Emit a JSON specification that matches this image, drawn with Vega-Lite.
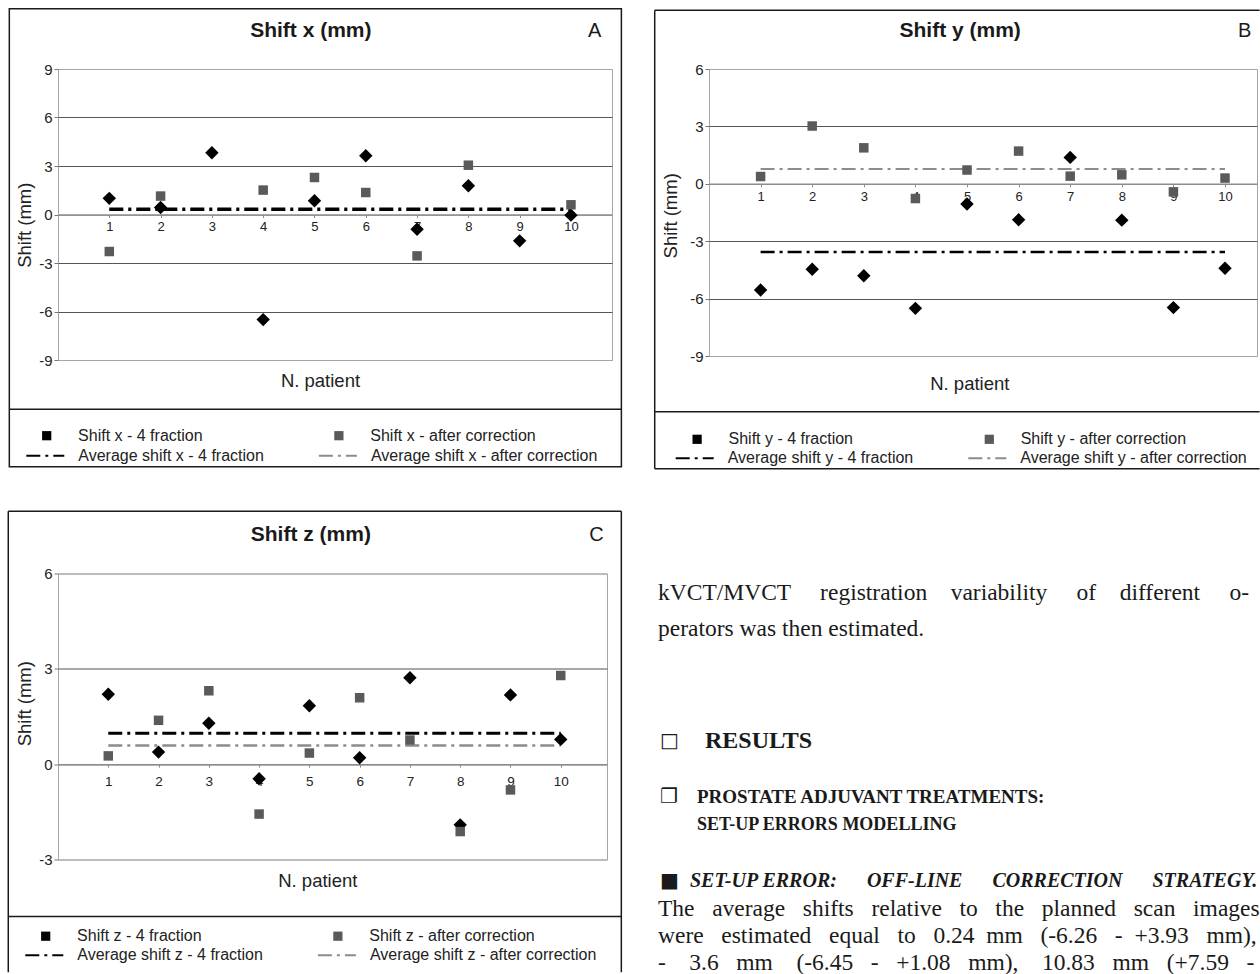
{
  "$schema": "https://vega.github.io/schema/vega-lite/v6.json",
  "padding": {"left": 7, "top": 7, "right": 0, "bottom": 0},
  "background": "white",
  "config": {"font": "Liberation Sans", "view": {"stroke": null}},
  "spacing": 39.5,
  "resolve": {"scale": {"color": "independent", "stroke": "independent", "strokeDash": "independent"}, "legend": {"color": "independent", "stroke": "independent", "strokeDash": "independent"}},
  "vconcat": [
    {
      "spacing": 30,
      "resolve": {"scale": {"color": "independent", "stroke": "independent", "strokeDash": "independent"}, "legend": {"color": "independent", "stroke": "independent", "strokeDash": "independent"}},
      "hconcat": [
        {
          "width": 554, "height": 291,
          "view": {"stroke": "#a6a6a6"},
          "data": {"values": [
            {"patient": 1, "shift": 1.0, "series": "Shift x - 4 fraction"},
            {"patient": 2, "shift": 0.43, "series": "Shift x - 4 fraction"},
            {"patient": 3, "shift": 3.82, "series": "Shift x - 4 fraction"},
            {"patient": 4, "shift": -6.5, "series": "Shift x - 4 fraction"},
            {"patient": 5, "shift": 0.85, "series": "Shift x - 4 fraction"},
            {"patient": 6, "shift": 3.63, "series": "Shift x - 4 fraction"},
            {"patient": 7, "shift": -0.91, "series": "Shift x - 4 fraction"},
            {"patient": 8, "shift": 1.78, "series": "Shift x - 4 fraction"},
            {"patient": 9, "shift": -1.63, "series": "Shift x - 4 fraction"},
            {"patient": 10, "shift": -0.04, "series": "Shift x - 4 fraction"},
            {"patient": 1, "shift": -2.29, "series": "Shift x - after correction"},
            {"patient": 2, "shift": 1.14, "series": "Shift x - after correction"},
            {"patient": 4, "shift": 1.51, "series": "Shift x - after correction"},
            {"patient": 5, "shift": 2.29, "series": "Shift x - after correction"},
            {"patient": 6, "shift": 1.36, "series": "Shift x - after correction"},
            {"patient": 7, "shift": -2.56, "series": "Shift x - after correction"},
            {"patient": 8, "shift": 3.05, "series": "Shift x - after correction"},
            {"patient": 10, "shift": 0.6, "series": "Shift x - after correction"}
          ]},
          "layer": [
            {
              "data": {"values": [{}]},
              "mark": {"type": "rect", "filled": false, "stroke": "#1a1a1a", "strokeWidth": 1.5, "clip": false},
              "encoding": {"x": {"datum": -0.949, "type": "quantitative"}, "x2": {"datum": 10.983}, "y": {"datum": 12.73, "type": "quantitative"}, "y2": {"datum": -15.6}}
            },
            {
              "data": {"values": [{}]},
              "mark": {"type": "rule", "stroke": "#1a1a1a", "strokeWidth": 1.5, "clip": false},
              "encoding": {"x": {"datum": -0.949, "type": "quantitative"}, "x2": {"datum": 10.983}, "y": {"datum": -12.04, "type": "quantitative"}}
            },
            {
              "data": {"values": [{"series": "Average shift x - after correction", "shift": 0.3}]},
              "mark": {"type": "rule", "strokeWidth": 2},
              "encoding": {"x": {"datum": 1, "type": "quantitative"}, "x2": {"datum": 10}, "y": {"field": "shift", "type": "quantitative"},
                "stroke": {"field": "series", "type": "nominal", "scale": {"domain": ["Average shift x - 4 fraction", "Average shift x - after correction"], "range": ["#000000", "#8c8c8c"]},
                  "legend": {"orient": "none", "legendX": -32.7, "legendY": 366.7, "columns": 2, "direction": "horizontal", "title": null, "padding": 0, "labelFontSize": 16, "labelColor": "#222", "labelLimit": 400, "symbolType": "stroke", "symbolSize": 1444, "symbolStrokeWidth": 2, "labelOffset": 13, "columnPadding": 50.6}},
                "strokeDash": {"field": "series", "type": "nominal", "scale": {"domain": ["Average shift x - 4 fraction", "Average shift x - after correction"], "range": [[14, 5, 3, 5], [14, 5, 3, 5]]},
                  "legend": {"orient": "none", "legendX": -32.7, "legendY": 366.7, "columns": 2, "direction": "horizontal", "title": null, "padding": 0, "labelFontSize": 16, "labelColor": "#222", "labelLimit": 400, "symbolType": "stroke", "symbolSize": 1444, "symbolStrokeWidth": 2, "labelOffset": 13, "columnPadding": 50.6}}}
            },
            {
              "data": {"values": [{"series": "Average shift x - 4 fraction", "shift": 0.33}]},
              "mark": {"type": "rule", "strokeWidth": 3.5},
              "encoding": {"x": {"datum": 1, "type": "quantitative"}, "x2": {"datum": 10}, "y": {"field": "shift", "type": "quantitative"},
                "stroke": {"field": "series", "type": "nominal"}, "strokeDash": {"field": "series", "type": "nominal"}}
            },
            {
              "transform": [{"filter": "datum.series === 'Shift x - 4 fraction'"}],
              "mark": {"type": "point", "shape": "diamond", "filled": true, "size": 180, "opacity": 1},
              "encoding": {
                "x": {"field": "patient", "type": "quantitative", "scale": {"domain": [0, 10.8], "nice": false, "zero": false},
                  "axis": {"values": [1,2,3,4,5,6,7,8,9,10], "format": "d", "offset": -145.5, "grid": false, "domainColor": "#8c8c8c", "domainWidth": 1.5, "tickColor": "#8c8c8c", "tickSize": 3, "labelPadding": 3, "labelFontSize": 13, "labelColor": "#222", "title": "N. patient", "titleFontSize": 18.5, "titleFontWeight": "normal", "titleColor": "#222", "titleX": 262, "titleY": 166.2, "titleBaseline": "middle", "titleAlign": "center"}},
                "y": {"field": "shift", "type": "quantitative", "scale": {"domain": [-9, 9], "nice": false, "zero": false},
                  "axis": {"values": [-9,-6,-3,0,3,6,9], "labelExpr": "datum.value < 0 ? '-' + abs(datum.value) : '' + datum.value", "grid": true, "gridColor": {"condition": {"test": "datum.value === 0 || abs(datum.value) === 9", "value": "#a6a6a6"}, "value": "#555555"}, "gridWidth": 1.2, "domain": false, "tickSize": 4, "tickColor": "#777", "labelPadding": 2, "labelFontSize": 15, "labelColor": "#222", "title": "Shift (mm)", "titleFontSize": 18.5, "titleFontWeight": "normal", "titleColor": "#222", "titleX": -33.5, "titleY": 155.7, "titleBaseline": "middle", "titleAlign": "center", "titleAngle": -90}},
                "color": {"field": "series", "type": "nominal",
                  "scale": {"domain": ["Shift x - 4 fraction", "Shift x - after correction"], "range": ["#000000", "#5a5a5a"]},
                  "legend": {"orient": "none", "legendX": -19.3, "legendY": 358.7, "columns": 2, "direction": "horizontal", "title": null, "padding": 0, "labelFontSize": 16, "labelColor": "#222", "labelLimit": 400, "symbolType": "square", "symbolSize": 85, "labelOffset": 23.4, "columnPadding": 128.2, "symbolOpacity": 1}}
              }
            },
            {
              "transform": [{"filter": "datum.series === 'Shift x - after correction'"}],
              "mark": {"type": "point", "shape": "square", "filled": true, "size": 90, "opacity": 1},
              "encoding": {"x": {"field": "patient", "type": "quantitative"}, "y": {"field": "shift", "type": "quantitative"}, "color": {"field": "series", "type": "nominal"}}
            },
            {
              "data": {"values": [{"title": "Shift x (mm)", "letter": "A"}]},
              "layer": [
                {"mark": {"type": "text", "fontSize": 21, "fontWeight": "bold", "align": "center", "baseline": "middle", "color": "#1a1a1a", "clip": false},
                 "encoding": {"x": {"datum": 4.929, "type": "quantitative"}, "y": {"datum": 11.37, "type": "quantitative"}, "text": {"field": "title"}}},
                {"mark": {"type": "text", "fontSize": 20, "align": "center", "baseline": "middle", "color": "#1a1a1a", "clip": false},
                 "encoding": {"x": {"datum": 10.46, "type": "quantitative"}, "y": {"datum": 11.37, "type": "quantitative"}, "text": {"field": "letter"}}}
              ]
            }
          ]
        },
        {
          "width": 548, "height": 287,
          "view": {"stroke": "#a6a6a6"},
          "data": {"values": [
            {"patient": 1, "shift": -5.55, "series": "Shift y - 4 fraction"},
            {"patient": 2, "shift": -4.47, "series": "Shift y - 4 fraction"},
            {"patient": 3, "shift": -4.81, "series": "Shift y - 4 fraction"},
            {"patient": 4, "shift": -6.51, "series": "Shift y - 4 fraction"},
            {"patient": 5, "shift": -1.06, "series": "Shift y - 4 fraction"},
            {"patient": 6, "shift": -1.88, "series": "Shift y - 4 fraction"},
            {"patient": 7, "shift": 1.38, "series": "Shift y - 4 fraction"},
            {"patient": 8, "shift": -1.9, "series": "Shift y - 4 fraction"},
            {"patient": 9, "shift": -6.47, "series": "Shift y - 4 fraction"},
            {"patient": 10, "shift": -4.41, "series": "Shift y - 4 fraction"},
            {"patient": 1, "shift": 0.38, "series": "Shift y - after correction"},
            {"patient": 2, "shift": 3.02, "series": "Shift y - after correction"},
            {"patient": 3, "shift": 1.88, "series": "Shift y - after correction"},
            {"patient": 4, "shift": -0.77, "series": "Shift y - after correction"},
            {"patient": 5, "shift": 0.72, "series": "Shift y - after correction"},
            {"patient": 6, "shift": 1.71, "series": "Shift y - after correction"},
            {"patient": 7, "shift": 0.4, "series": "Shift y - after correction"},
            {"patient": 8, "shift": 0.47, "series": "Shift y - after correction"},
            {"patient": 9, "shift": -0.42, "series": "Shift y - after correction"},
            {"patient": 10, "shift": 0.3, "series": "Shift y - after correction"}
          ]},
          "layer": [
            {
              "data": {"values": [{}]},
              "layer": [
                {"mark": {"type": "rule", "stroke": "#1a1a1a", "strokeWidth": 1.5, "clip": false},
                 "encoding": {"x": {"datum": -1.052, "type": "quantitative"}, "x2": {"datum": 10.67}, "y": {"datum": 9.07, "type": "quantitative"}}},
                {"mark": {"type": "rule", "stroke": "#1a1a1a", "strokeWidth": 1.5, "clip": false},
                 "encoding": {"x": {"datum": -1.052, "type": "quantitative"}, "x2": {"datum": 10.67}, "y": {"datum": -14.89, "type": "quantitative"}}},
                {"mark": {"type": "rule", "stroke": "#1a1a1a", "strokeWidth": 1.5, "clip": false},
                 "encoding": {"x": {"datum": -1.052, "type": "quantitative"}, "y": {"datum": 9.07, "type": "quantitative"}, "y2": {"datum": -14.89}}},
                {"mark": {"type": "rule", "stroke": "#1a1a1a", "strokeWidth": 1.5, "clip": false},
                 "encoding": {"x": {"datum": -1.052, "type": "quantitative"}, "x2": {"datum": 10.67}, "y": {"datum": -11.91, "type": "quantitative"}}}
              ]
            },
            {
              "data": {"values": [{"series": "Average shift y - after correction", "shift": 0.77}]},
              "mark": {"type": "rule", "strokeWidth": 2},
              "encoding": {"x": {"datum": 1, "type": "quantitative"}, "x2": {"datum": 10}, "y": {"field": "shift", "type": "quantitative"},
                "stroke": {"field": "series", "type": "nominal", "scale": {"domain": ["Average shift y - 4 fraction", "Average shift y - after correction"], "range": ["#000000", "#8c8c8c"]},
                  "legend": {"orient": "none", "legendX": -34.3, "legendY": 369.3, "columns": 2, "direction": "horizontal", "title": null, "padding": 0, "labelFontSize": 16, "labelColor": "#222", "labelLimit": 400, "symbolType": "stroke", "symbolSize": 1444, "symbolStrokeWidth": 2, "labelOffset": 13, "columnPadding": 50.6}},
                "strokeDash": {"field": "series", "type": "nominal", "scale": {"domain": ["Average shift y - 4 fraction", "Average shift y - after correction"], "range": [[14, 5, 3, 5], [14, 5, 3, 5]]},
                  "legend": {"orient": "none", "legendX": -34.3, "legendY": 369.3, "columns": 2, "direction": "horizontal", "title": null, "padding": 0, "labelFontSize": 16, "labelColor": "#222", "labelLimit": 400, "symbolType": "stroke", "symbolSize": 1444, "symbolStrokeWidth": 2, "labelOffset": 13, "columnPadding": 50.6}}}
            },
            {
              "data": {"values": [{"series": "Average shift y - 4 fraction", "shift": -3.56}]},
              "mark": {"type": "rule", "strokeWidth": 2.5},
              "encoding": {"x": {"datum": 1, "type": "quantitative"}, "x2": {"datum": 10}, "y": {"field": "shift", "type": "quantitative"},
                "stroke": {"field": "series", "type": "nominal"}, "strokeDash": {"field": "series", "type": "nominal"}}
            },
            {
              "transform": [{"filter": "datum.series === 'Shift y - 4 fraction'"}],
              "mark": {"type": "point", "shape": "diamond", "filled": true, "size": 180, "opacity": 1},
              "encoding": {
                "x": {"field": "patient", "type": "quantitative", "scale": {"domain": [0, 10.62], "nice": false, "zero": false},
                  "axis": {"values": [1,2,3,4,5,6,7,8,9,10], "format": "d", "offset": -172.2, "grid": false, "domainColor": "#8c8c8c", "domainWidth": 1.5, "tickColor": "#8c8c8c", "tickSize": 3, "labelPadding": 3.5, "labelFontSize": 13, "labelColor": "#222", "title": "N. patient", "titleFontSize": 18.5, "titleFontWeight": "normal", "titleColor": "#222", "titleX": 260.3, "titleY": 199.5, "titleBaseline": "middle", "titleAlign": "center"}},
                "y": {"field": "shift", "type": "quantitative", "scale": {"domain": [-9, 6], "nice": false, "zero": false},
                  "axis": {"values": [-9,-6,-3,0,3,6], "labelExpr": "datum.value < 0 ? '-' + abs(datum.value) : '' + datum.value", "grid": true, "gridColor": {"condition": {"test": "datum.value === 0 || datum.value === 6 || datum.value === -9", "value": "#a6a6a6"}, "value": "#555555"}, "gridWidth": 1.2, "domain": false, "tickSize": 4, "tickColor": "#777", "labelPadding": 2, "labelFontSize": 15, "labelColor": "#222", "title": "Shift (mm)", "titleFontSize": 18.5, "titleFontWeight": "normal", "titleColor": "#222", "titleX": -38.3, "titleY": 146.3, "titleBaseline": "middle", "titleAlign": "center", "titleAngle": -90}},
                "color": {"field": "series", "type": "nominal",
                  "scale": {"domain": ["Shift y - 4 fraction", "Shift y - after correction"], "range": ["#000000", "#5a5a5a"]},
                  "legend": {"orient": "none", "legendX": -19.9, "legendY": 362.3, "columns": 2, "direction": "horizontal", "title": null, "padding": 0, "labelFontSize": 16, "labelColor": "#222", "labelLimit": 400, "symbolType": "square", "symbolSize": 85, "labelOffset": 23.4, "columnPadding": 128.2, "symbolOpacity": 1}}
              }
            },
            {
              "transform": [{"filter": "datum.series === 'Shift y - after correction'"}],
              "mark": {"type": "point", "shape": "square", "filled": true, "size": 90, "opacity": 1},
              "encoding": {"x": {"field": "patient", "type": "quantitative"}, "y": {"field": "shift", "type": "quantitative"}, "color": {"field": "series", "type": "nominal"}}
            },
            {
              "data": {"values": [{"title": "Shift y (mm)", "letter": "B"}]},
              "layer": [
                {"mark": {"type": "text", "fontSize": 21, "fontWeight": "bold", "align": "center", "baseline": "middle", "color": "#1a1a1a", "clip": false},
                 "encoding": {"x": {"datum": 4.868, "type": "quantitative"}, "y": {"datum": 7.97, "type": "quantitative"}, "text": {"field": "title"}}},
                {"mark": {"type": "text", "fontSize": 20, "align": "center", "baseline": "middle", "color": "#1a1a1a", "clip": false},
                 "encoding": {"x": {"datum": 10.38, "type": "quantitative"}, "y": {"datum": 7.97, "type": "quantitative"}, "text": {"field": "letter"}}}
              ]
            }
          ]
        }
      ]
    },
    {
      "spacing": 35,
      "resolve": {"scale": {"color": "independent", "stroke": "independent", "strokeDash": "independent"}, "legend": {"color": "independent", "stroke": "independent", "strokeDash": "independent"}},
      "hconcat": [
        {
          "width": 549, "height": 286,
          "view": {"stroke": "#a6a6a6"},
          "data": {"values": [
            {"patient": 1, "shift": 2.2, "series": "Shift z - 4 fraction"},
            {"patient": 2, "shift": 0.38, "series": "Shift z - 4 fraction"},
            {"patient": 3, "shift": 1.29, "series": "Shift z - 4 fraction"},
            {"patient": 4, "shift": -0.46, "series": "Shift z - 4 fraction"},
            {"patient": 5, "shift": 1.84, "series": "Shift z - 4 fraction"},
            {"patient": 6, "shift": 0.2, "series": "Shift z - 4 fraction"},
            {"patient": 7, "shift": 2.72, "series": "Shift z - 4 fraction"},
            {"patient": 8, "shift": -1.91, "series": "Shift z - 4 fraction"},
            {"patient": 9, "shift": 2.18, "series": "Shift z - 4 fraction"},
            {"patient": 10, "shift": 0.78, "series": "Shift z - 4 fraction"},
            {"patient": 1, "shift": 0.26, "series": "Shift z - after correction"},
            {"patient": 2, "shift": 1.38, "series": "Shift z - after correction"},
            {"patient": 3, "shift": 2.31, "series": "Shift z - after correction"},
            {"patient": 4, "shift": -1.57, "series": "Shift z - after correction"},
            {"patient": 5, "shift": 0.35, "series": "Shift z - after correction"},
            {"patient": 6, "shift": 2.09, "series": "Shift z - after correction"},
            {"patient": 7, "shift": 0.76, "series": "Shift z - after correction"},
            {"patient": 8, "shift": -2.12, "series": "Shift z - after correction"},
            {"patient": 9, "shift": -0.81, "series": "Shift z - after correction"},
            {"patient": 10, "shift": 2.79, "series": "Shift z - after correction"}
          ]},
          "layer": [
            {
              "data": {"values": [{}]},
              "layer": [
                {"mark": {"type": "rule", "stroke": "#1a1a1a", "strokeWidth": 1.5, "clip": false},
                 "encoding": {"x": {"datum": -0.989, "type": "quantitative"}, "x2": {"datum": 11.205}, "y": {"datum": 7.96, "type": "quantitative"}}},
                {"mark": {"type": "rule", "stroke": "#1a1a1a", "strokeWidth": 1.5, "clip": false},
                 "encoding": {"x": {"datum": -0.989, "type": "quantitative"}, "y": {"datum": 7.96, "type": "quantitative"}, "y2": {"datum": -6.55}}},
                {"mark": {"type": "rule", "stroke": "#1a1a1a", "strokeWidth": 1.5, "clip": false},
                 "encoding": {"x": {"datum": 11.205, "type": "quantitative"}, "y": {"datum": 7.96, "type": "quantitative"}, "y2": {"datum": -6.55}}},
                {"mark": {"type": "rule", "stroke": "#1a1a1a", "strokeWidth": 1.5, "clip": false},
                 "encoding": {"x": {"datum": -0.989, "type": "quantitative"}, "x2": {"datum": 11.205}, "y": {"datum": -4.794, "type": "quantitative"}}}
              ]
            },
            {
              "data": {"values": [{"series": "Average shift z - after correction", "shift": 0.59}]},
              "mark": {"type": "rule", "strokeWidth": 2.5},
              "encoding": {"x": {"datum": 1, "type": "quantitative"}, "x2": {"datum": 10}, "y": {"field": "shift", "type": "quantitative"},
                "stroke": {"field": "series", "type": "nominal", "scale": {"domain": ["Average shift z - 4 fraction", "Average shift z - after correction"], "range": ["#000000", "#8c8c8c"]},
                  "legend": {"orient": "none", "legendX": -33.7, "legendY": 361.7, "columns": 2, "direction": "horizontal", "title": null, "padding": 0, "labelFontSize": 16, "labelColor": "#222", "labelLimit": 400, "symbolType": "stroke", "symbolSize": 1444, "symbolStrokeWidth": 2, "labelOffset": 13, "columnPadding": 50.6}},
                "strokeDash": {"field": "series", "type": "nominal", "scale": {"domain": ["Average shift z - 4 fraction", "Average shift z - after correction"], "range": [[14, 5, 3, 5], [14, 5, 3, 5]]},
                  "legend": {"orient": "none", "legendX": -33.7, "legendY": 361.7, "columns": 2, "direction": "horizontal", "title": null, "padding": 0, "labelFontSize": 16, "labelColor": "#222", "labelLimit": 400, "symbolType": "stroke", "symbolSize": 1444, "symbolStrokeWidth": 2, "labelOffset": 13, "columnPadding": 50.6}}}
            },
            {
              "data": {"values": [{"series": "Average shift z - 4 fraction", "shift": 0.97}]},
              "mark": {"type": "rule", "strokeWidth": 3},
              "encoding": {"x": {"datum": 1, "type": "quantitative"}, "x2": {"datum": 10}, "y": {"field": "shift", "type": "quantitative"},
                "stroke": {"field": "series", "type": "nominal"}, "strokeDash": {"field": "series", "type": "nominal"}}
            },
            {
              "transform": [{"filter": "datum.series === 'Shift z - 4 fraction'"}],
              "mark": {"type": "point", "shape": "diamond", "filled": true, "size": 180, "opacity": 1},
              "encoding": {
                "x": {"field": "patient", "type": "quantitative", "scale": {"domain": [0, 10.92], "nice": false, "zero": false},
                  "axis": {"values": [1,2,3,4,5,6,7,8,9,10], "format": "d", "offset": -95.3, "grid": false, "domainColor": "#8c8c8c", "domainWidth": 1.5, "tickColor": "#8c8c8c", "tickSize": 3, "labelPadding": 7, "labelFontSize": 13.5, "labelColor": "#222", "title": "N. patient", "titleFontSize": 18.5, "titleFontWeight": "normal", "titleColor": "#222", "titleX": 259.3, "titleY": 116, "titleBaseline": "middle", "titleAlign": "center"}},
                "y": {"field": "shift", "type": "quantitative", "scale": {"domain": [-3, 6], "nice": false, "zero": false},
                  "axis": {"values": [-3,0,3,6], "labelExpr": "datum.value < 0 ? '-' + abs(datum.value) : '' + datum.value", "grid": true, "gridColor": {"condition": {"test": "datum.value === 0 || datum.value === 6 || datum.value === -3", "value": "#a6a6a6"}, "value": "#555555"}, "gridWidth": 1.2, "domain": false, "tickSize": 4, "tickColor": "#777", "labelPadding": 2, "labelFontSize": 15, "labelColor": "#222", "title": "Shift (mm)", "titleFontSize": 18.5, "titleFontWeight": "normal", "titleColor": "#222", "titleX": -33.5, "titleY": 129.7, "titleBaseline": "middle", "titleAlign": "center", "titleAngle": -90}},
                "color": {"field": "series", "type": "nominal",
                  "scale": {"domain": ["Shift z - 4 fraction", "Shift z - after correction"], "range": ["#000000", "#5a5a5a"]},
                  "legend": {"orient": "none", "legendX": -20.3, "legendY": 354.7, "columns": 2, "direction": "horizontal", "title": null, "padding": 0, "labelFontSize": 16, "labelColor": "#222", "labelLimit": 400, "symbolType": "square", "symbolSize": 85, "labelOffset": 23.4, "columnPadding": 128.2, "symbolOpacity": 1}}
              }
            },
            {
              "transform": [{"filter": "datum.series === 'Shift z - after correction'"}],
              "mark": {"type": "point", "shape": "square", "filled": true, "size": 90, "opacity": 1},
              "encoding": {"x": {"field": "patient", "type": "quantitative"}, "y": {"field": "shift", "type": "quantitative"}, "color": {"field": "series", "type": "nominal"}}
            },
            {
              "data": {"values": [{"title": "Shift z (mm)", "letter": "C"}]},
              "layer": [
                {"mark": {"type": "text", "fontSize": 21, "fontWeight": "bold", "align": "center", "baseline": "middle", "color": "#1a1a1a", "clip": false},
                 "encoding": {"x": {"datum": 5.029, "type": "quantitative"}, "y": {"datum": 7.205, "type": "quantitative"}, "text": {"field": "title"}}},
                {"mark": {"type": "text", "fontSize": 20, "align": "center", "baseline": "middle", "color": "#1a1a1a", "clip": false},
                 "encoding": {"x": {"datum": 10.71, "type": "quantitative"}, "y": {"datum": 7.205, "type": "quantitative"}, "text": {"field": "letter"}}}
              ]
            }
          ]
        },
        {
          "width": 602, "height": 398,
          "view": {"stroke": null},
          "layer": [
            {
              "data": {"values": [
                {"line": 0.715, "text": "kVCT/MVCT \u00a0\u00a0\u00a0\u00a0registration \u00a0\u00a0\u00a0variability \u00a0\u00a0\u00a0\u00a0of \u00a0\u00a0\u00a0different \u00a0\u00a0\u00a0\u00a0o-"},
                {"line": 2.022, "text": "perators was then estimated."},
                {"line": 12.185, "text": "The \u00a0\u00a0average \u00a0\u00a0shifts \u00a0\u00a0relative \u00a0\u00a0to \u00a0\u00a0the \u00a0\u00a0planned \u00a0\u00a0scan \u00a0\u00a0images"},
                {"line": 13.165, "text": "were \u00a0\u00a0estimated \u00a0\u00a0equal \u00a0\u00a0to \u00a0\u00a00.24 \u00a0mm \u00a0\u00a0(-6.26 \u00a0\u00a0- \u00a0+3.93 \u00a0\u00a0mm),"},
                {"line": 14.145, "text": "- \u00a0\u00a0\u00a03.6 \u00a0\u00a0mm \u00a0\u00a0\u00a0(-6.45 \u00a0\u00a0- \u00a0\u00a0+1.08 \u00a0\u00a0mm), \u00a0\u00a0\u00a010.83 \u00a0\u00a0mm \u00a0\u00a0(+7.59 \u00a0\u00a0-"}
              ]},
              "mark": {"type": "text", "font": "Liberation Serif", "fontSize": 23.5, "align": "left", "baseline": "middle", "color": "#1a1a1a"},
              "encoding": {
                "x": {"datum": 0, "type": "quantitative", "scale": {"domain": [0, 1], "nice": false}, "axis": null},
                "y": {"field": "line", "type": "quantitative", "scale": {"domain": [0, 14.446], "nice": false, "zero": false, "reverse": true}, "axis": null},
                "text": {"field": "text"}
              }
            },
            {
              "data": {"values": [
                {"line": 6.087, "icon": "□"},
                {"line": 8.12, "icon": "❐"},
                {"line": 11.169, "icon": "■"}
              ]},
              "mark": {"type": "text", "font": "DejaVu Sans", "fontSize": 20, "align": "left", "baseline": "middle", "color": "#1a1a1a", "dx": 2},
              "encoding": {"x": {"datum": 0, "type": "quantitative"}, "y": {"field": "line", "type": "quantitative"}, "text": {"field": "icon"}}
            },
            {
              "data": {"values": [{"line": 6.087, "text": "RESULTS"}]},
              "mark": {"type": "text", "font": "Liberation Serif", "fontSize": 24, "fontWeight": "bold", "align": "left", "baseline": "middle", "color": "#1a1a1a", "dx": 47},
              "encoding": {"x": {"datum": 0, "type": "quantitative"}, "y": {"field": "line", "type": "quantitative"}, "text": {"field": "text"}}
            },
            {
              "data": {"values": [{"line": 8.12, "text": "PROSTATE ADJUVANT TREATMENTS:"}]},
              "mark": {"type": "text", "font": "Liberation Serif", "fontSize": 19, "fontWeight": "bold", "align": "left", "baseline": "middle", "color": "#1a1a1a", "dx": 39},
              "encoding": {"x": {"datum": 0, "type": "quantitative"}, "y": {"field": "line", "type": "quantitative"}, "text": {"field": "text"}}
            },
            {
              "data": {"values": [{"line": 9.136, "text": "SET-UP ERRORS MODELLING"}]},
              "mark": {"type": "text", "font": "Liberation Serif", "fontSize": 18, "fontWeight": "bold", "align": "left", "baseline": "middle", "color": "#1a1a1a", "dx": 39},
              "encoding": {"x": {"datum": 0, "type": "quantitative"}, "y": {"field": "line", "type": "quantitative"}, "text": {"field": "text"}}
            },
            {
              "data": {"values": [{"line": 11.169, "text": "SET-UP ERROR: \u00a0\u00a0\u00a0\u00a0\u00a0OFF-LINE \u00a0\u00a0\u00a0\u00a0\u00a0CORRECTION \u00a0\u00a0\u00a0\u00a0\u00a0STRATEGY."}]},
              "mark": {"type": "text", "font": "Liberation Serif", "fontSize": 20, "fontWeight": "bold", "fontStyle": "italic", "align": "left", "baseline": "middle", "color": "#1a1a1a", "dx": 32},
              "encoding": {"x": {"datum": 0, "type": "quantitative"}, "y": {"field": "line", "type": "quantitative"}, "text": {"field": "text"}}
            }
          ]
        }
      ]
    }
  ]
}
